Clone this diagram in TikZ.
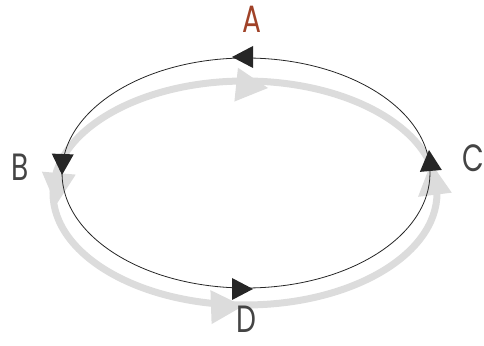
\documentclass[tikz,border=0pt]{standalone}
\usepackage{fontspec}
\setmainfont{Poppins}
\definecolor{labelred}{RGB}{160,66,40}
\definecolor{labelgray}{RGB}{68,68,68}
\definecolor{backgray}{RGB}{220,220,220}
\tikzset{
  cyclelabel/.style={font=\fontsize{38}{42}\selectfont, xscale=0.74, transform shape, inner sep=0pt}
}
\begin{document}
\begin{tikzpicture}[x=1pt, y=1pt]
  \useasboundingbox (0,0) rectangle (484,345);
  % light cycle behind
  \draw[backgray, line width=7pt] (245,152) ellipse [x radius=192, y radius=112];
  \foreach \tx/\ty/\rot in {268/257/-6, 56/140/-95, 431/182/97, 243/39/2}
    \fill[backgray, shift={(\tx,\ty)}, rotate=\rot] (0,0) -- (-32,17) -- (-32,-17) -- cycle;
  % dark cycle in front
  \draw[black!85, line width=0.8pt] (246,172) ellipse [x radius=184, y radius=115];
  \foreach \tx/\ty/\rot in {232/288/180, 62/170/-92, 429/195/95, 253/56/0}
    \fill[black!85, shift={(\tx,\ty)}, rotate=\rot] (0,0) -- (-21,11) -- (-21,-11) -- cycle;
  \node[cyclelabel, text=labelred] (A) at (252,326) {A};
  \node[cyclelabel, text=labelgray] (B) at (20,178) {B};
  \node[cyclelabel, text=labelgray] (C) at (473,187) {C};
  \node[cyclelabel, text=labelgray] (D) at (246,26) {D};
\end{tikzpicture}
\end{document}
